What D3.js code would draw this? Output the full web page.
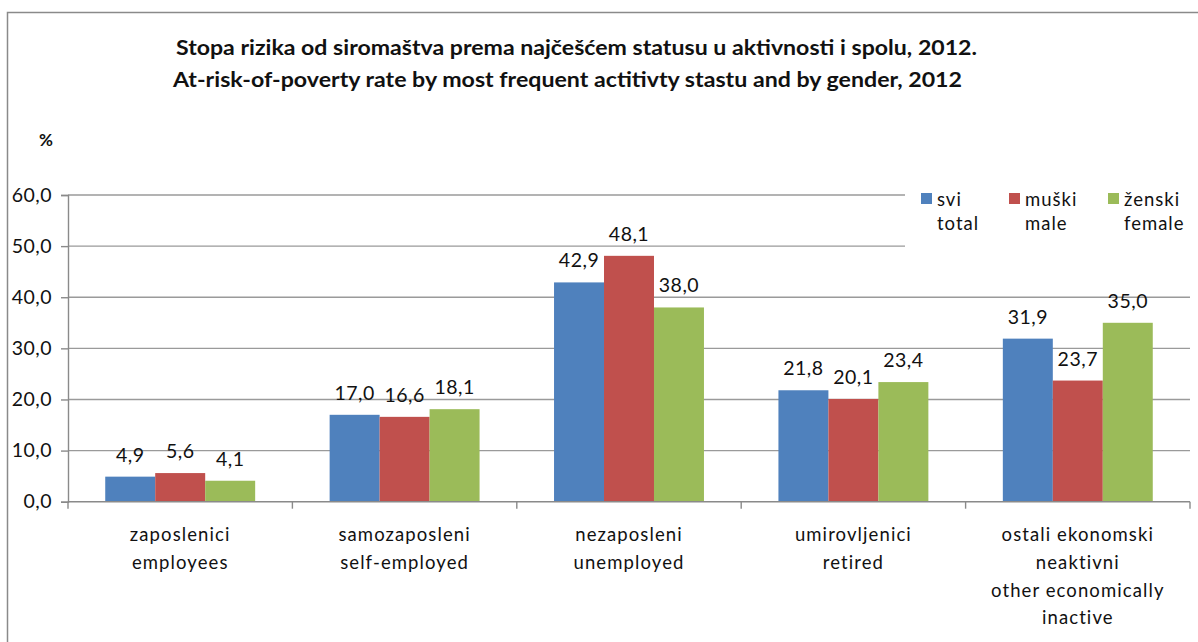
<!DOCTYPE html>
<html>
<head>
<meta charset="utf-8">
<script src="https://cdn.jsdelivr.net/npm/d3@7"></script>
<style>
  body { margin: 0; background: #fff; }
  text { font-family: Lato, "Open Sans", sans-serif; fill: #111; }
</style>
</head>
<body>
<svg id="chart" width="1198" height="642"></svg>
<script>
// data
const categories = [
  ['zaposlenici', 'employees'],
  ['samozaposleni', 'self-employed'],
  ['nezaposleni', 'unemployed'],
  ['umirovljenici', 'retired'],
  ['ostali ekonomski', 'neaktivni', 'other economically', 'inactive']
];
const seriesNames = [['svi', 'total'], ['muški', 'male'], ['ženski', 'female']];
const total  = [4.9, 17.0, 42.9, 21.8, 31.9];
const male   = [5.6, 16.6, 48.1, 20.1, 23.7];
const female = [4.1, 18.1, 38.0, 23.4, 35.0];
const yTicks = [0, 10, 20, 30, 40, 50, 60];
const colors = ['#4F81BD', '#C0504D', '#9BBB59'];

const seriesValues = [total, male, female];

const svg = d3.select('#chart');

// outer frame
svg.append('rect')
  .attr('x', 7.5).attr('y', 12.5)
  .attr('width', 1300).attr('height', 700)
  .attr('fill', 'none').attr('stroke', '#8a8a8a').attr('stroke-width', 1.5);

// titles
svg.append('text')
  .attr('x', 176).attr('y', 55)
  .attr('font-weight', 'bold').attr('font-size', 20)
  .attr('textLength', 801).attr('lengthAdjust', 'spacingAndGlyphs')
  .text('Stopa rizika od siromaštva prema najčešćem statusu u aktivnosti i spolu, 2012.');
svg.append('text')
  .attr('x', 173).attr('y', 87)
  .attr('font-weight', 'bold').attr('font-size', 20)
  .attr('textLength', 789).attr('lengthAdjust', 'spacingAndGlyphs')
  .text('At-risk-of-poverty rate by most frequent actitivty stastu and by gender, 2012');

svg.append('text')
  .attr('x', 46).attr('y', 146)
  .attr('text-anchor', 'middle')
  .attr('font-weight', 'bold').attr('font-size', 17)
  .text('%');

// scales
const plotLeft = 68, plotRight = 1190, plotTop = 195, plotBottom = 501.7;

const x0 = d3.scaleBand()
  .domain(d3.range(categories.length))
  .range([plotLeft, plotRight])
  .padding(0);

const x1 = d3.scaleBand()
  .domain(d3.range(seriesValues.length))
  .range([0, x0.bandwidth()])
  .paddingInner(0)
  .paddingOuter(0.745);

const y = d3.scaleLinear().domain([0, 60]).range([plotBottom, plotTop]);

// gridlines
svg.append('g')
  .selectAll('line')
  .data(yTicks.filter(d => d > 0))
  .enter().append('line')
  .attr('x1', plotLeft).attr('x2', plotRight)
  .attr('y1', d => y(d)).attr('y2', d => y(d))
  .attr('stroke', '#9a9a9a').attr('stroke-width', 1.4);

// y axis
const yAxis = svg.append('g')
  .attr('transform', `translate(${plotLeft},0)`)
  .call(d3.axisLeft(y).tickValues(yTicks).tickSize(7).tickPadding(9)
    .tickFormat(d => d3.format('.1f')(d).replace('.', ',')));
yAxis.select('.domain').attr('stroke', '#8a8a8a').attr('stroke-width', 1.4);
yAxis.selectAll('.tick line').attr('stroke', '#8a8a8a').attr('stroke-width', 1.4);
yAxis.selectAll('.tick text')
  .attr('font-size', 19.5).attr('fill', '#111')
  .attr('letter-spacing', 0.5)
  .style('font-family', 'Lato, sans-serif');

// bars
const groups = svg.append('g')
  .selectAll('g')
  .data(categories.map((c, i) => i))
  .enter().append('g')
  .attr('transform', i => `translate(${x0(i)},0)`);

groups.selectAll('rect')
  .data(i => seriesValues.map((s, k) => ({ k: k, v: s[i] })))
  .enter().append('rect')
  .attr('x', d => x1(d.k))
  .attr('width', x1.bandwidth())
  .attr('y', d => y(d.v))
  .attr('height', d => plotBottom - y(d.v))
  .attr('fill', d => colors[d.k]);

groups.selectAll('text.value')
  .data(i => seriesValues.map((s, k) => ({ k: k, v: s[i] })))
  .enter().append('text')
  .attr('class', 'value')
  .attr('x', d => x1(d.k) + x1.bandwidth() / 2)
  .attr('y', d => y(d.v) - 15)
  .attr('text-anchor', 'middle')
  .attr('font-size', 19.5)
  .attr('letter-spacing', 0.5)
  .text(d => d3.format('.1f')(d.v).replace('.', ','));

// x axis
svg.append('line')
  .attr('x1', plotLeft).attr('x2', plotRight)
  .attr('y1', plotBottom).attr('y2', plotBottom)
  .attr('stroke', '#8a8a8a').attr('stroke-width', 1.4);

svg.append('g')
  .selectAll('line')
  .data(d3.range(categories.length + 1))
  .enter().append('line')
  .attr('x1', i => plotLeft + i * x0.step()).attr('x2', i => plotLeft + i * x0.step())
  .attr('y1', plotBottom).attr('y2', plotBottom + 7)
  .attr('stroke', '#8a8a8a').attr('stroke-width', 1.4);

// category labels
const catLabels = svg.append('g')
  .selectAll('text')
  .data(categories)
  .enter().append('text')
  .attr('text-anchor', 'middle')
  .attr('font-size', 18.5)
  .attr('letter-spacing', 1.1);

catLabels.selectAll('tspan')
  .data((d, i) => d.map(line => ({ line: line, i: i })))
  .enter().append('tspan')
  .attr('x', d => x0(d.i) + x0.bandwidth() / 2)
  .attr('y', (d, j) => 541 + j * 27.8)
  .text(d => d.line);

// legend
svg.append('rect')
  .attr('x', 905).attr('y', 183)
  .attr('width', 290).attr('height', 70)
  .attr('fill', '#fff');

const legendX = [921, 1009, 1108];
const legend = svg.append('g')
  .selectAll('g')
  .data(seriesNames)
  .enter().append('g')
  .attr('transform', (d, i) => `translate(${legendX[i]},0)`);

legend.append('rect')
  .attr('x', 0).attr('y', 193)
  .attr('width', 11).attr('height', 11)
  .attr('fill', (d, i) => colors[i]);

legend.append('text')
  .attr('x', 16).attr('y', 206)
  .attr('font-size', 18.5)
  .attr('letter-spacing', 1.0)
  .text(d => d[0]);

legend.append('text')
  .attr('x', 16).attr('y', 230)
  .attr('font-size', 18.5)
  .attr('letter-spacing', 1.0)
  .text(d => d[1]);
</script>
</body>
</html>
